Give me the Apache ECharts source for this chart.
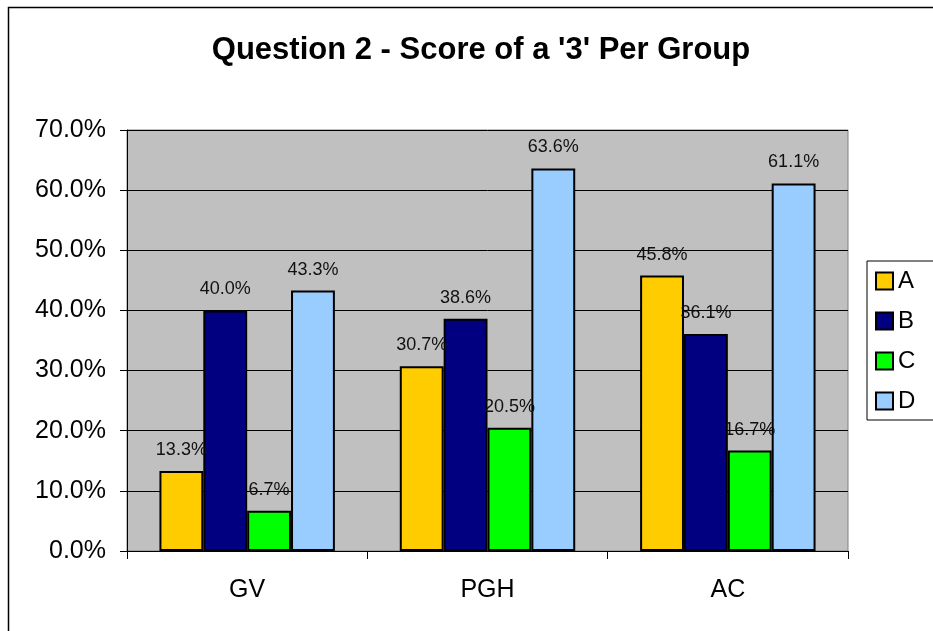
<!DOCTYPE html>
<html>
<head>
<meta charset="utf-8">
<script src="https://cdn.jsdelivr.net/npm/echarts@6/dist/echarts.min.js"></script>
<style>
    html, body { margin: 0; padding: 0; background: #fff; }
    #chart { width: 933px; height: 631px; }
</style>
</head>
<body>
<div id="chart"></div>
<script>
    // data
    const groups = ['GV', 'PGH', 'AC'];
    const seriesNames = ['A', 'B', 'C', 'D'];
    const valuesA = [13.3, 30.7, 45.8];
    const valuesB = [40.0, 38.6, 36.1];
    const valuesC = [6.7, 20.5, 16.7];
    const valuesD = [43.3, 63.6, 61.1];
    const colors = ['#FFCC00', '#000080', '#00FF00', '#99CCFF'];

    const allValues = [valuesA, valuesB, valuesC, valuesD];
    const font = 'Liberation Sans, Arial, sans-serif';

    let chart = echarts.init(document.getElementById('chart'));

    const series = seriesNames.map((name, i) => ({
        name: name,
        type: 'bar',
        data: allValues[i],
        barGap: '0%',
        barCategoryGap: '27%',
        itemStyle: {
            color: colors[i],
            borderColor: '#000',
            borderWidth: 2
        },
        label: {
            show: true,
            position: 'top',
            distance: 12,
            color: '#111',
            fontFamily: font,
            fontSize: 18,
            formatter: p => p.value.toFixed(1) + '%'
        }
    }));

    const option = {
        animation: false,
        title: {
            text: "Question 2 - Score of a '3' Per Group",
            left: 476,
            textAlign: 'center',
            top: 30,
            textStyle: {
                fontFamily: font,
                fontSize: 31,
                fontWeight: 'bold',
                color: '#000'
            }
        },
        graphic: [{
            type: 'rect',
            shape: { x: 8.5, y: 7.5, width: 960, height: 660 },
            style: { fill: 'none', stroke: '#000', lineWidth: 1.5 },
            silent: true
        }],
        legend: {
            orient: 'vertical',
            left: 867,
            top: 261,
            width: 66,
            padding: [8, 30, 7, 8],
            itemWidth: 17,
            itemHeight: 17,
            itemGap: 16,
            borderColor: '#000',
            borderWidth: 1,
            icon: 'rect',
            textStyle: { fontFamily: font, fontSize: 24, lineHeight: 24, color: '#000', padding: [0, 0, 0, 0] },
            data: seriesNames
        },
        grid: {
            left: 127,
            top: 130,
            right: 85,
            bottom: 80,
            show: true,
            backgroundColor: '#C0C0C0',
            borderColor: '#808080',
            borderWidth: 1
        },
        xAxis: {
            type: 'category',
            data: groups,
            axisLine: { lineStyle: { color: '#000', width: 1 } },
            axisTick: { show: true, length: 8, lineStyle: { color: '#000' } },
            axisLabel: { fontFamily: font, fontSize: 25, color: '#000', margin: 27 }
        },
        yAxis: {
            type: 'value',
            min: 0,
            max: 70,
            interval: 10,
            axisLine: { show: true, lineStyle: { color: '#000', width: 1 } },
            axisTick: { show: true, length: 7, lineStyle: { color: '#000' } },
            axisLabel: {
                fontFamily: font,
                fontSize: 25,
                color: '#000',
                margin: 21,
                formatter: v => v.toFixed(1) + '%'
            },
            splitLine: { show: true, lineStyle: { color: '#000', width: 1 } }
        },
        series: series
    };

    chart.setOption(option);
</script>
</body>
</html>
